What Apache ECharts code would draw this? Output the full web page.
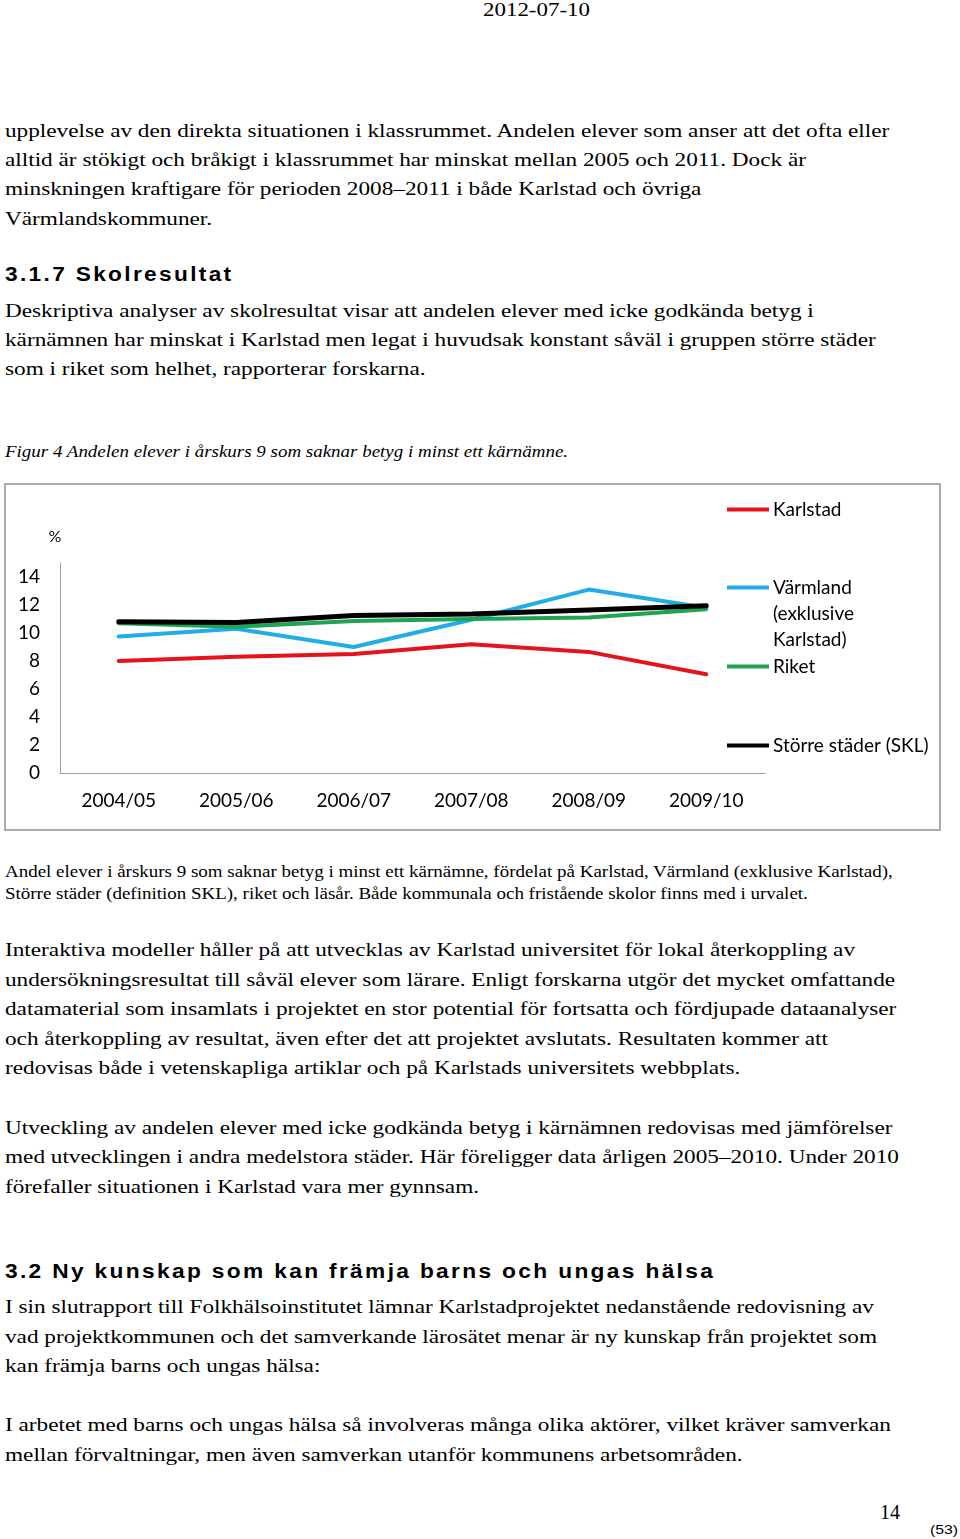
<!DOCTYPE html>
<html><head><meta charset="utf-8">
<script src="https://cdn.jsdelivr.net/npm/echarts@6/dist/echarts.min.js"></script>
<style>
html,body{margin:0;padding:0;background:#fff}
body{width:960px;height:1539px;position:relative;overflow:hidden;font-family:"Liberation Serif","Times New Roman",serif;color:#000}
.t{position:absolute;white-space:nowrap;left:5px;transform-origin:0 50%;line-height:30px;height:30px}
.body{font-size:19.4px}
.cap{font-size:16px;line-height:22px;height:22px}
.fig{font-size:16.5px;font-style:italic}
.h{font-family:"Liberation Sans",Arial,sans-serif;font-weight:bold;font-size:19.5px;letter-spacing:2px}
#chart{position:absolute;left:4px;top:483px;width:933px;height:344px;border:2px solid #ababab}
</style></head><body>
<div class="t" style="left:483px;top:-5px;font-size:19.5px" data-w="107">2012-07-10</div>

<div class="t body" id="ref1" style="top:116px">upplevelse av den direkta situationen i klassrummet. Andelen elever som anser att det ofta eller</div>
<div class="t body" style="top:145px">alltid är stökigt och bråkigt i klassrummet har minskat mellan 2005 och 2011. Dock är</div>
<div class="t body" style="top:174px">minskningen kraftigare för perioden 2008–2011 i både Karlstad och övriga</div>
<div class="t body" style="top:204px">Värmlandskommuner.</div>

<div class="t h" style="top:259px" data-w="228">3.1.7 Skolresultat</div>

<div class="t body" style="top:296px">Deskriptiva analyser av skolresultat visar att andelen elever med icke godkända betyg i</div>
<div class="t body" style="top:325px">kärnämnen har minskat i Karlstad men legat i huvudsak konstant såväl i gruppen större städer</div>
<div class="t body" style="top:354px">som i riket som helhet, rapporterar forskarna.</div>

<div class="t fig" style="top:437px" data-w="563">Figur 4 Andelen elever i årskurs 9 som saknar betyg i minst ett kärnämne.</div>

<div id="chart"></div>

<div class="t cap" id="ref2" style="top:861px">Andel elever i årskurs 9 som saknar betyg i minst ett kärnämne, fördelat på Karlstad, Värmland (exklusive Karlstad),</div>
<div class="t cap" style="top:883px">Större städer (definition SKL), riket och läsår. Både kommunala och fristående skolor finns med i urvalet.</div>

<div class="t body" style="top:935px">Interaktiva modeller håller på att utvecklas av Karlstad universitet för lokal återkoppling av</div>
<div class="t body" style="top:965px">undersökningsresultat till såväl elever som lärare. Enligt forskarna utgör det mycket omfattande</div>
<div class="t body" style="top:994px">datamaterial som insamlats i projektet en stor potential för fortsatta och fördjupade dataanalyser</div>
<div class="t body" style="top:1024px">och återkoppling av resultat, även efter det att projektet avslutats. Resultaten kommer att</div>
<div class="t body" style="top:1053px">redovisas både i vetenskapliga artiklar och på Karlstads universitets webbplats.</div>

<div class="t body" style="top:1113px">Utveckling av andelen elever med icke godkända betyg i kärnämnen redovisas med jämförelser</div>
<div class="t body" style="top:1142px">med utvecklingen i andra medelstora städer. Här föreligger data årligen 2005–2010. Under 2010</div>
<div class="t body" style="top:1172px">förefaller situationen i Karlstad vara mer gynnsam.</div>

<div class="t h" style="top:1256px" data-w="710">3.2 Ny kunskap som kan främja barns och ungas hälsa</div>

<div class="t body" style="top:1292px">I sin slutrapport till Folkhälsoinstitutet lämnar Karlstadprojektet nedanstående redovisning av</div>
<div class="t body" style="top:1322px">vad projektkommunen och det samverkande lärosätet menar är ny kunskap från projektet som</div>
<div class="t body" style="top:1351px">kan främja barns och ungas hälsa:</div>

<div class="t body" style="top:1410px">I arbetet med barns och ungas hälsa så involveras många olika aktörer, vilket kräver samverkan</div>
<div class="t body" style="top:1440px">mellan förvaltningar, men även samverkan utanför kommunens arbetsområden.</div>

<div class="t" style="left:880px;top:1497px;font-size:20px" data-w="20">14</div>
<div class="t" style="left:930px;top:1517px;font-size:13px;line-height:26px;font-family:'Liberation Sans',Arial,sans-serif" data-w="28">(53)</div>

<script>
// ---- chart data ----
const categories = ['2004/05', '2005/06', '2006/07', '2007/08', '2008/09', '2009/10'];
const karlstad = [8.0, 8.3, 8.5, 9.2, 8.65, 7.05];
const varmland = [9.75, 10.3, 9.0, 10.95, 13.1, 11.8];
const riket = [10.7, 10.45, 10.85, 11.0, 11.1, 11.7];
const storre = [10.8, 10.75, 11.25, 11.35, 11.65, 11.95];
const seriesNames = ['Karlstad', 'Värmland (exklusive Karlstad)', 'Riket', 'Större städer (SKL)'];
const legendLabels = ['Karlstad', 'Värmland', 'Riket', 'Större städer (SKL)'];
const yMin = 0, yMax = 15, yInterval = 2;

const colors = ['#e5141c', '#22ade6', '#1ea553', '#000000'];
const widths = [4, 4, 4, 5];
const values = [karlstad, varmland, riket, storre];
const FONT = 'Lato, "Open Sans", sans-serif';
const legendTops = [15, 93, 172, 251];

const chart = echarts.init(document.getElementById('chart'), null, {renderer: 'canvas'});
chart.setOption({
  animation: false,
  backgroundColor: '#fff',
  textStyle: {fontFamily: FONT},
  grid: {left: 54, top: 78, width: 705, height: 210, containLabel: false, outerBoundsMode: 'none'},
  xAxis: {
    type: 'category', data: categories, boundaryGap: true,
    axisLine: {lineStyle: {color: '#a0a0a0', width: 1}},
    axisTick: {show: false},
    axisLabel: {color: '#000', fontSize: 19, fontFamily: FONT, margin: 18}
  },
  yAxis: {
    type: 'value', min: yMin, max: yMax, interval: yInterval,
    name: '%', nameLocation: 'end', nameGap: 18,
    nameTextStyle: {color: '#000', fontSize: 16, fontFamily: FONT, padding: [0, 10, 0, 0]},
    axisLine: {show: true, lineStyle: {color: '#a0a0a0', width: 1}},
    axisTick: {show: false},
    splitLine: {show: false},
    axisLabel: {color: '#000', fontSize: 19, fontFamily: FONT, margin: 20, showMaxLabel: false}
  },
  legend: seriesNames.map((n, i) => ({
    data: [n], orient: 'vertical', left: 721, top: legendTops[i], padding: 0,
    icon: 'rect', itemWidth: 42, itemHeight: 4, itemGap: 0,
    selectedMode: false,
    formatter: () => legendLabels[i],
    textStyle: {color: '#000', fontSize: 19, fontFamily: FONT, padding: [0, 0, 0, -1]}
  })),
  graphic: [{
    type: 'text', left: 767, top: 116,
    style: {text: '(exklusive\nKarlstad)', fill: '#000', font: '19px ' + FONT, lineHeight: 26}
  }],
  series: seriesNames.map((n, i) => ({
    name: n, type: 'line', data: values[i], symbol: 'none', smooth: false,
    color: colors[i],
    lineStyle: {color: colors[i], width: widths[i], cap: 'round', join: 'round'},
    itemStyle: {color: colors[i]},
    z: 2 + i
  }))
});

function fit() {
  const scaleClass = (cls, refId, target) => {
    const ref = document.getElementById(refId);
    const s = target / ref.offsetWidth;
    document.querySelectorAll('.' + cls).forEach(e => { e.style.transform = 'scaleX(' + s + ')'; });
  };
  scaleClass('body', 'ref1', 884);
  scaleClass('cap', 'ref2', 888);
  document.querySelectorAll('[data-w]').forEach(e => {
    e.style.transform = 'scaleX(' + (parseFloat(e.dataset.w) / e.offsetWidth) + ')';
  });
}
fit();
if (document.fonts && document.fonts.ready) document.fonts.ready.then(fit);
</script>
</body></html>
